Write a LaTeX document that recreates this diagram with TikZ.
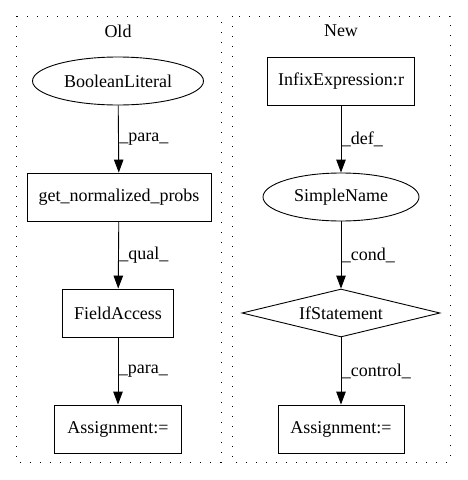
\documentclass[tikz,border=0pt]{standalone}
\usepackage{fontspec}
\setmainfont{Liberation Serif}
\usetikzlibrary{arrows.meta,shapes.geometric}
\tikzset{
	box/.style={draw, line width=0.9pt, rectangle, minimum height=48pt, inner sep=0pt},
	oval/.style={draw, line width=0.9pt, ellipse, minimum height=48pt, inner sep=0pt},
	cluster/.style={line width=1pt, dash pattern=on 1.4pt off 8.6pt},
	flow/.style={line width=0.9pt, -{Triangle[length=13pt,width=9.5pt]}},
	edgelabel/.style={anchor=west, inner sep=0.5pt}
}

\begin{document}
\begin{tikzpicture}[x=1pt, y=-1pt, font=\fontsize{18}{21}\selectfont]
		%%%%% START %%%%%
		\useasboundingbox (0, 0) rectangle (467, 480);
		
		\draw[cluster] (16, 16) rectangle (221, 462);
		\draw[cluster] (232, 16) rectangle (450, 462);
		\node (oldtitle) at (118, 31) {Old};
		\node (newtitle) at (341, 31) {New};
		
		\node[oval, minimum width=171pt] (boolean) at (118, 81) {BooleanLiteral};
		\node[box, minimum width=184pt] (probs) at (119, 197) {get\_normalized\_probs};
		\node[box, minimum width=111pt] (field) at (118, 313) {FieldAccess};
		\node[box, minimum width=127pt] (oldassign) at (118, 429) {Assignment:=};
		
		\node[box, minimum width=147pt] (infix) at (341, 81) {InfixExpression:r};
		\node[oval, minimum width=156pt] (simple) at (341, 197) {SimpleName};
		\node[draw, line width=0.9pt, diamond, aspect=4.1, inner sep=1pt, minimum width=198pt, minimum height=48pt] (ifstmt) at (341, 313) {IfStatement};
		\node[box, minimum width=126pt] (newassign) at (341, 429) {Assignment:=};
		
		\draw[flow] (boolean) -- node[edgelabel] {\_para\_} (probs);
		\draw[flow] (probs) -- node[edgelabel] {\_qual\_} (field);
		\draw[flow] (field) -- node[edgelabel] {\_para\_} (oldassign);
		
		\draw[flow] (infix) -- node[edgelabel] {\_def\_} (simple);
		\draw[flow] (simple) -- node[edgelabel] {\_cond\_} (ifstmt);
		\draw[flow] (ifstmt) -- node[edgelabel] {\_control\_} (newassign);
		%%%%% END %%%%%
	\end{tikzpicture}
\end{document}
